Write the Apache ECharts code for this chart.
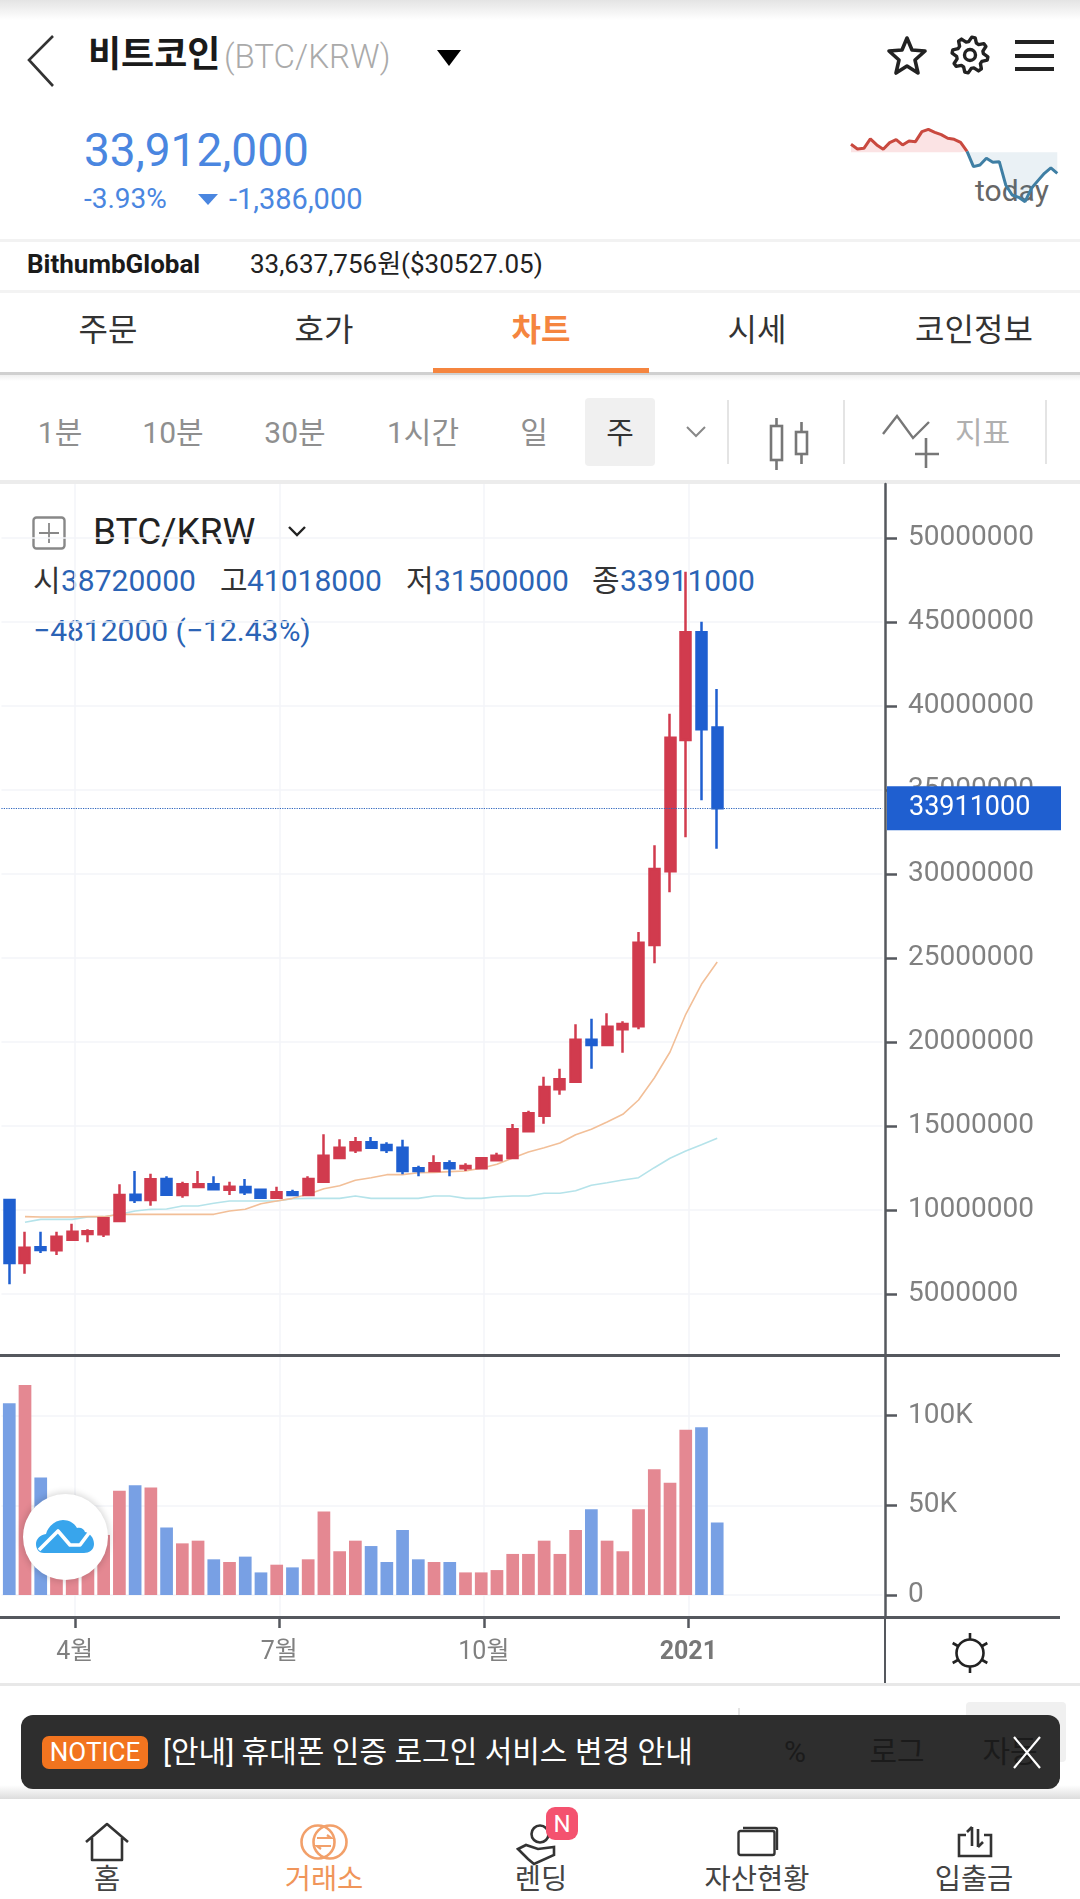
<!DOCTYPE html>
<html lang="ko"><head><meta charset="utf-8">
<script src="https://cdn.jsdelivr.net/npm/echarts@6/dist/echarts.min.js"></script>
<style>
html,body{margin:0;padding:0;background:#fff;width:1080px;height:1899px;overflow:hidden;font-family:Roboto,"Noto Sans CJK KR",sans-serif}
#under,#over{position:absolute;left:0;top:0;width:1080px;height:1899px}
#under{z-index:0}#over{z-index:2;pointer-events:none}
#chart{position:absolute;left:0;top:0;width:1080px;height:1899px;z-index:1}
.t{position:absolute;white-space:nowrap;transform:translateY(-50%);line-height:1}
.c{transform:translate(-50%,-50%)}
.b{position:absolute}
svg{position:absolute;overflow:visible}
</style></head><body>
<div id="under"></div><div id="chart"></div><div id="over"></div>
<script>
// ---------- data ----------
const weeks=['03-02','03-09','03-16','03-23','03-30','04-06','04-13','04-20','04-27','05-04','05-11','05-18','05-25','06-01','06-08','06-15','06-22','06-29','07-06','07-13','07-20','07-27','08-03','08-10','08-17','08-24','08-31','09-07','09-14','09-21','09-28','10-05','10-12','10-19','10-26','11-02','11-09','11-16','11-23','11-30','12-07','12-14','12-21','12-28','01-04','01-11'];
// open, close, low, high
const ohlc=[
[10595000,6845000,5575000,10595000],[6845000,7758000,6210000,8710000],[7778000,7619000,7440000,8710000],[7599000,8412000,7321000,8710000],
[8234000,8710000,8234000,9186000],[8571000,8730000,8075000,8849000],[8551000,9504000,8393000,9543000],[9345000,10893000,9345000,11528000],
[10913000,10595000,10416000,12321000],[10595000,11825000,10258000,12163000],[11845000,10913000,10893000,12004000],[10893000,11528000,10734000,11686000],
[11369000,11528000,11369000,12321000],[11528000,11230000,11230000,12004000],[11210000,11389000,10893000,11686000],[11369000,11052000,10893000,11845000],
[11210000,10734000,10734000,11230000],[10734000,11052000,10734000,11389000],[11052000,10893000,10893000,11210000],[10893000,11845000,10893000,12004000],
[11686000,13234000,11686000,14504000],[13095000,13710000,13095000,14206000],[13551000,14028000,13393000,14345000],[14028000,13710000,13710000,14345000],
[13869000,13571000,13393000,14028000],[13710000,12321000,12123000,14186000],[12480000,12321000,12004000,12639000],[12321000,12778000,12321000,13254000],
[12778000,12480000,12004000,12956000],[12480000,12619000,12321000,12778000],[12480000,13075000,12480000,13095000],[12958000,13232000,12958000,13411000],
[13095000,14804000,13095000,15119000],[14685000,15756000,14685000,15911000],[15613000,17321000,15137000,17935000],[17185000,17780000,16863000,18411000],
[17637000,20137000,17637000,21054000],[20137000,19821000,18411000,21387000],[19821000,20911000,19821000,21708000],[20756000,21071000,19363000,21232000],
[20935000,25911000,20756000,26548000],[25774000,30298000,24685000,31708000],[30161000,38113000,28911000,39542000],[37976000,44387000,32185000,47994000],
[44387000,38613000,34387000,45018000],[38720000,33911000,31500000,41018000]];
const maOrange=[null,9603000,9583000,9583000,9583000,9603000,9603000,9742000,9742000,9742000,9742000,9742000,9742000,9742000,9940000,10040000,10377000,10535000,10694000,10932000,11270000,11448000,11766000,11924000,12103000,12103000,12222000,12242000,12282000,12321000,12480000,12720000,13095000,13452000,13708000,13988000,14482000,14804000,15238000,15696000,16548000,17857000,19405000,21649000,23435000,24762000];
const maCyan=[null,9266000,9444000,9444000,9444000,9583000,9603000,9742000,9940000,10040000,10060000,10238000,10238000,10397000,10535000,10535000,10535000,10535000,10674000,10694000,10694000,10694000,10833000,10694000,10694000,10694000,10694000,10833000,10833000,10694000,10694000,10792000,10833000,10833000,10994000,10994000,11149000,11470000,11625000,11786000,11923000,12518000,13077000,13512000,13887000,14268000];
const volume=[106900,117100,65600,28000,31000,33000,33500,58200,61200,59900,37600,28800,30300,19900,18400,21400,12600,16900,15400,19900,46500,24400,30300,27300,18400,36300,19900,18400,18400,12600,12600,13900,22900,22900,30300,22900,36300,47800,30300,24400,47800,70100,62600,92200,93500,40500];
const priceTicks=[5000000,10000000,15000000,20000000,25000000,30000000,35000000,40000000,45000000,50000000];
const volumeTicks=[0,50000,100000];
const monthLabels={14:'4월',53:'7월',92:'10월',131:'2021'};
const sparkUp=[24,10,12,40,22,9,29,38,22,34,32,62,69,60,53,42,39,30,3,null,null,null,null,null,null,null,null,null,null,null,null,null,null];
const sparkDown=[null,null,null,null,null,null,null,null,null,null,null,null,null,null,null,null,null,null,3,-43,-38,-18,-30,-28,-98,-128,-135,-148,-108,-85,-63,-47,-63];
const legendValues={open:'38720000',high:'41018000',low:'31500000',close:'33911000',change:'\u22124812000 (\u221212.43%)'};

const UP='#d13b4e',DOWN='#1f5fd0',FONT='Roboto,"Noto Sans CJK KR",sans-serif';
const cats=weeks.concat(Array(10).fill(''));
const slots=Array.from({length:169},(_,i)=>monthLabels[i]||'');
const onMonth=(i,v)=>v!=='';
const AXIS='#55585e';
const grids=[{left:1.4,width:881,top:484,height:871},{left:1.4,width:881,top:1355,height:262},{left:851,width:206.3,top:129.3,height:75}];
const hiddenX=(g)=>({type:'category',gridIndex:g,data:cats,position:'bottom',axisLine:{show:false},axisTick:{show:false},axisLabel:{show:false},splitLine:{show:false}});
const monthX=(g,labels)=>({type:'category',gridIndex:g,data:slots,boundaryGap:false,position:'bottom',
  axisLine:{show:false},
  axisTick:{show:labels,length:11,interval:onMonth,lineStyle:{color:AXIS,width:2.5}},
  axisLabel:{show:labels,interval:onMonth,margin:23,fontSize:25,color:'#808080',fontFamily:FONT,formatter:v=>v==='2021'?'{b|2021}':v,rich:{b:{fontWeight:'bold',fontSize:25,color:'#777',fontFamily:FONT}}},
  splitLine:{show:true,interval:onMonth,lineStyle:{color:'#f3f5f9',width:1.5}}});
const rightY=(g,min,max,ticks,fmt)=>({type:'value',gridIndex:g,position:'right',offset:2.6,min,max,scale:true,
  axisLine:{show:true,lineStyle:{color:AXIS,width:2.5}},
  axisTick:{show:true,length:12,customValues:ticks,lineStyle:{color:AXIS,width:2.5}},
  axisLabel:{customValues:ticks,margin:23,fontSize:28,color:'#808080',fontFamily:FONT,formatter:fmt},
  splitLine:{show:true,lineStyle:{color:'#f3f5f9',width:1.5}}});
const sparkX={type:'category',gridIndex:2,data:sparkUp.map((_,i)=>i),boundaryGap:false,show:false};

const chart=echarts.init(document.getElementById('chart'),null,{renderer:'canvas'});
chart.setOption({
  animation:false,backgroundColor:'transparent',grid:grids,
  xAxis:[hiddenX(0),monthX(0,false),hiddenX(1),monthX(1,true),sparkX],
  yAxis:[rightY(0,1369000,53214000,priceTicks,v=>String(v)),
    rightY(1,-12270,133850,volumeTicks,v=>v===0?'0':(v/1000)+'K'),
    {type:'value',gridIndex:2,min:-156,max:69,show:false}],
  series:[
   {type:'line',xAxisIndex:0,yAxisIndex:0,data:maCyan,showSymbol:false,symbol:'none',lineStyle:{color:'#b5e3ea',width:1.6},z:3},
   {type:'line',xAxisIndex:0,yAxisIndex:0,data:maOrange,showSymbol:false,symbol:'none',lineStyle:{color:'#f2bf98',width:1.6},z:3},
   {type:'candlestick',xAxisIndex:0,yAxisIndex:0,data:ohlc,barWidth:10.5,z:4,
     itemStyle:{color:UP,color0:DOWN,borderColor:UP,borderColor0:DOWN,borderWidth:2.5},
     markLine:{silent:true,symbol:'none',animation:false,z:6,
       lineStyle:{type:'dotted',color:'#2f66bd',width:1.2},
       data:[{yAxis:ohlc[ohlc.length-1][1]}],
       label:{show:true,position:'end',distance:4.6,formatter:p=>String(p.value),color:'#fff',fontSize:27,fontFamily:FONT,
         backgroundColor:'#1f5fd0',padding:[8,22,8,22],width:130,height:28,lineHeight:28}}},
   {type:'bar',xAxisIndex:2,yAxisIndex:1,data:volume,barWidth:12.7,
     itemStyle:{color:p=>ohlc[p.dataIndex][1]>=ohlc[p.dataIndex][0]?'#e48892':'#78a0e4'}},
   {type:'line',xAxisIndex:4,yAxisIndex:2,data:sparkUp,symbol:'none',showSymbol:false,lineStyle:{width:3,color:'#c9493f'},itemStyle:{color:'#c9493f'},areaStyle:{opacity:.16,color:'#e8505a',origin:0},silent:true},
   {type:'line',xAxisIndex:4,yAxisIndex:2,data:sparkDown,symbol:'none',showSymbol:false,lineStyle:{width:3,color:'#3f7fa4'},itemStyle:{color:'#3f7fa4'},areaStyle:{opacity:.11,color:'#3f7fa4',origin:0},silent:true}
  ]
});

// ---------- page chrome ----------
function txt(p,x,y,s,size,color,extra){const d=document.createElement('div');d.className='t'+(extra&&extra.center?' c':'');d.textContent=s;
  d.style.cssText=`left:${x}px;top:${y}px;font-size:${size}px;color:${color};`+((extra&&extra.css)||'');p.appendChild(d);return d;}
function box(p,x,y,w,h,css){const d=document.createElement('div');d.className='b';d.style.cssText=`left:${x}px;top:${y}px;width:${w}px;height:${h}px;${css||''}`;p.appendChild(d);return d;}
function svg(p,x,y,w,h,inner){const d=document.createElementNS('http://www.w3.org/2000/svg','svg');d.setAttribute('width',w);d.setAttribute('height',h);d.setAttribute('viewBox',`0 0 ${w} ${h}`);d.style.left=x+'px';d.style.top=y+'px';d.innerHTML=inner;p.appendChild(d);}
const U=document.getElementById('under'),O=document.getElementById('over');
// top
box(U,0,0,1080,20,'background:linear-gradient(#e4e4e4,#fff)');
svg(U,27,35,28,52,'<path d="M26 1 L2 25 L26 51" fill="none" stroke="#333" stroke-width="2.6"/>');
txt(U,88,55,'비트코인',36,'#1a1a1a',{css:'font-weight:700'});
txt(U,224,56,'(BTC/KRW)',33,'#aaaaaa',{css:'font-weight:300'});
svg(U,437,50,24,16,'<path d="M0 0H24L12 16Z" fill="#000"/>');
svg(U,887,35,40,40,'<path d="M20 3 L25 15 L38 16 L28 25 L31 38 L20 31 L9 38 L12 25 L2 16 L15 15 Z" fill="none" stroke="#222" stroke-width="3.6" stroke-linejoin="round"/>');
(function(){let d='';const n=8,R=18,r=13.5;for(let i=0;i<n*4;i++){const a=(i+.5)/(n*4)*Math.PI*2,q=i%4,rad=(q<2)?R:r;d+=(i?'L':'M')+(20+rad*Math.sin(a)).toFixed(1)+' '+(20-rad*Math.cos(a)).toFixed(1);}
 svg(U,950,35,40,40,`<path d="${d}Z" fill="none" stroke="#222" stroke-width="3.4" stroke-linejoin="round"/><circle cx="20" cy="20" r="5.5" fill="none" stroke="#222" stroke-width="3.4"/>`);})();
[40,53.5,66.5].forEach(y=>box(U,1015,y,39,4,'background:#222'));
txt(U,84,150,'33,912,000',46,'#4a86e0');
txt(U,84,199,'-3.93%',28,'#4a86e0');
svg(U,198,194,20,11,'<path d="M0 0H20L10 11Z" fill="#4a86e0"/>');
txt(U,229,199,'-1,386,000',29,'#4a86e0');
txt(U,975,191,'today',30,'#666');
box(U,0,239,1080,3,'background:#f2f2f2');
txt(U,27,264,'BithumbGlobal',26,'#1a1a1a',{css:'font-weight:700'});
txt(U,250,264,'33,637,756원($30527.05)',26,'#222');
box(U,0,290,1080,3,'background:#f3f3f3');
[['주문',108],['호가',324],['차트',541],['시세',757],['코인정보',974]].forEach(([s,x])=>txt(U,x,330,s,32,s==='차트'?'#f5853f':'#333',{center:true,css:s==='차트'?'font-weight:700':''}));
box(U,0,372,1080,3,'background:#d0d0d0');
box(U,0,375,1080,6,'background:linear-gradient(#f0f0f0,#fff)');
box(U,433,368,216,5,'background:#f5853f');
[['1분',60],['10분',173],['30분',295],['1시간',423],['일',534]].forEach(([s,x])=>txt(U,x,433,s,30,'#8f8f8f',{center:true}));
box(U,585,398,70,68,'background:#f0f0f0;border-radius:4px');
txt(U,620,433,'주',30,'#333',{center:true});
svg(U,686,426,20,12,'<path d="M1 1L10 10L19 1" fill="none" stroke="#888" stroke-width="2"/>');
[727,843,1045].forEach(x=>box(U,x,400,2,64,'background:#e4e4e4'));
svg(U,770,418,40,56,'<g fill="none" stroke="#777" stroke-width="2.6"><rect x="1" y="8" width="11" height="34"/><path d="M6.5 0V8M6.5 42V52"/><rect x="26" y="14" width="11" height="22"/><path d="M31.5 4V14M31.5 36V46"/></g>');
svg(U,883,412,50,58,'<path d="M0 22L14 4L30 26L46 10" fill="none" stroke="#777" stroke-width="2.4"/><path d="M43 26V56M32 42H56" fill="none" stroke="#777" stroke-width="2.6"/>');
txt(U,955,433,'지표',30,'#b0b0b0');
box(U,0,480,1080,4,'background:#ececec');
// legend
svg(U,32,516,34,34,'<rect x="1.5" y="1.5" width="31" height="31" rx="3" fill="none" stroke="#888" stroke-width="2.4"/><path d="M17 7V27M7 17H27" stroke="#888" stroke-width="1.8"/>');
txt(U,93,531,'BTC/KRW',37,'#222');
svg(U,288,526,18,11,'<path d="M1 1L9 9L17 1" fill="none" stroke="#222" stroke-width="2.4"/>');
const BLUE='#2b63b5';
[['시',33,'open',61],['고',220,'high',247],['저',406,'low',434],['종',592,'close',620]].forEach(([k,x,f,vx])=>{txt(U,x,581,k,30,'#333');txt(U,vx,581,legendValues[f],30,BLUE);});
txt(U,33,631,legendValues.change,30,BLUE);
// pane lines
box(O,0,1353.5,1060,3,`background:${AXIS}`);
box(O,0,1615.5,1060,3,`background:${AXIS}`);
box(O,883.8,1617,2.5,67,`background:${AXIS}`);
box(O,0,1683,1080,3,'background:#e8e8e8');
(function(){let rays='';for(let i=0;i<6;i++){const a=i*Math.PI/3;rays+=`<path d="M${20+14*Math.sin(a)} ${20-14*Math.cos(a)}L${20+20*Math.sin(a)} ${20-20*Math.cos(a)}"/>`;}
 svg(O,950,1633,40,40,`<g fill="none" stroke="#222" stroke-width="2.6"><circle cx="20" cy="20" r="13.5"/>${rays}</g>`);})();
// cloud button
box(O,22.5,1494,85,86,'background:#fff;border-radius:50%;box-shadow:0 0 6px 2px rgba(0,0,0,.14)');
svg(O,36,1519,58,36,'<path d="M8 34C2 34 0 29 0 25C0 20 4 16 10 15C12 7 20 1 27 1C34 1 39 5 41 9C45 8 48 10 49 13C54 14 58 19 58 25C58 31 53 34 48 34Z" fill="#38a5ec"/><path d="M3 31L22 12L34 26L44 26L56 10" fill="none" stroke="#fff" stroke-width="3.6" stroke-linejoin="round"/>');
// under-notice row
box(U,966,1702,100,60,'background:#f0f0f0;border-radius:4px');
box(U,738,1708,2,78,'background:#e4e4e4');
// notice
box(O,0,1785,1080,14,'background:linear-gradient(#fff,#dcdcdc)');
box(O,21,1715,1039,74,'background:#2e2e2e;border-radius:12px');
txt(O,795,1752,'%',30,'#1b1b1b',{center:true});
txt(O,897,1752,'로그',30,'#1b1b1b',{center:true});
txt(O,1010,1752,'자동',30,'#1b1b1b',{center:true});
box(O,42,1736,106,33,'background:#f2741f;border-radius:7px');
txt(O,95,1752,'NOTICE',26,'#fff',{center:true});
txt(O,163,1752,'[안내] 휴대폰 인증 로그인 서비스 변경 안내',30,'#fff');
svg(O,1012,1735,30,35,'<path d="M2 2L28 33M28 2L2 33" fill="none" stroke="#fff" stroke-width="2.2"/>');
box(O,0,1799,1080,100,'background:#fff');
// bottom nav
svg(O,85,1823,44,38,'<path d="M1 19L22 1L43 19M7 15V37H37V15" fill="none" stroke="#333" stroke-width="2.6" stroke-linejoin="round"/>');
svg(O,300,1824,48,36,'<g fill="none" stroke="#f2a06a" stroke-width="2.6"><circle cx="18" cy="18" r="16.5"/><circle cx="30" cy="18" r="16.5"/></g><path d="M17 14H31L27 11M31 22H17L21 25" fill="none" stroke="#f2a06a" stroke-width="2.2"/>');
svg(O,516,1825,46,40,'<g fill="none" stroke="#333" stroke-width="2.6"><circle cx="24" cy="9" r="8.5"/><path d="M2 24L10 20L22 24L38 22L38 30L18 39L12 34L2 24Z"/></g>');
box(O,546,1807,32,33,'background:#f4526f;border-radius:9px');
txt(O,562,1824,'N',24,'#fff',{center:true});
svg(O,737,1826,42,30,'<g fill="none" stroke="#333" stroke-width="2.4"><rect x="1.5" y="5" width="36" height="24" rx="2"/><path d="M6 2H38a2 2 0 0 1 2 2V24"/></g>');
svg(O,957,1826,36,32,'<g fill="none" stroke="#333" stroke-width="2.6"><path d="M9 9H2V30H34V9H27"/><path d="M15 1V20M10 6L15 1M21 3V21M21 21L26 16"/></g>');
[['홈',107],['거래소',324],['렌딩',541],['자산현황',757],['입출금',974]].forEach(([s,x])=>txt(O,x,1880,s,28.5,s==='거래소'?'#f0955a':'#444',{center:true}));
</script>
</body></html>
